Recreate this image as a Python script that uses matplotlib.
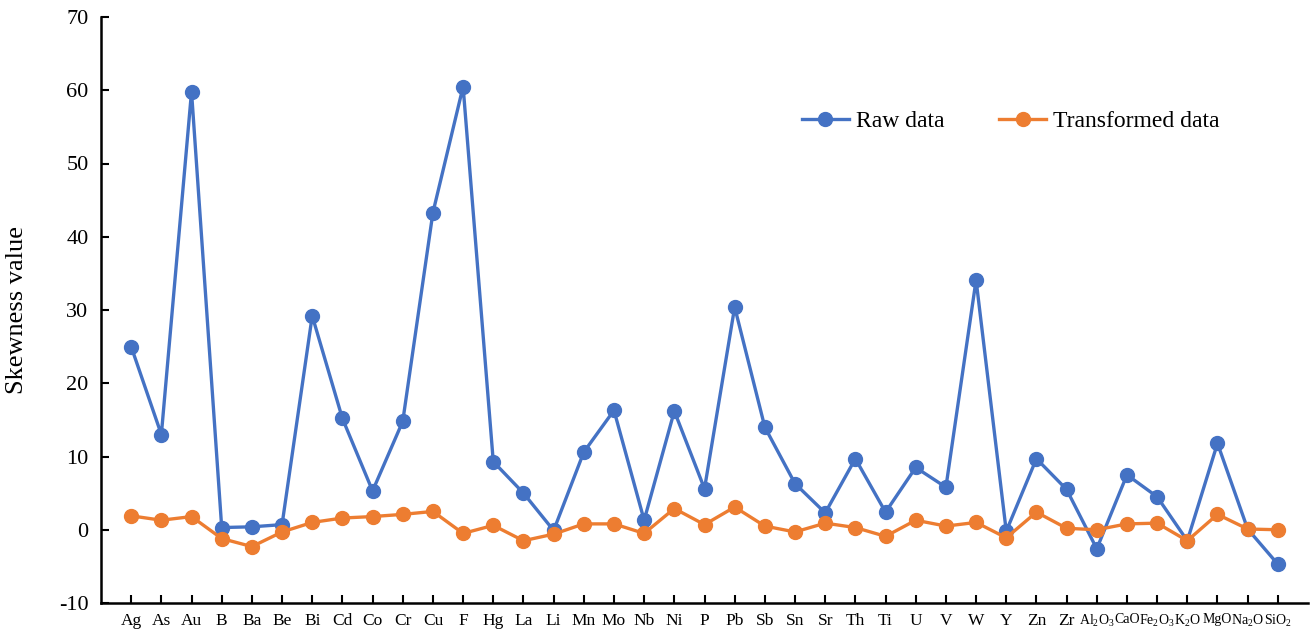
import matplotlib
matplotlib.use('Agg')
import matplotlib.pyplot as plt

plt.rcParams['font.family'] = 'Liberation Serif'
plt.rcParams['mathtext.fontset'] = 'custom'
plt.rcParams['mathtext.rm'] = 'Liberation Serif'
plt.rcParams['mathtext.it'] = 'Liberation Serif:italic'
plt.rcParams['axes.unicode_minus'] = False

# data
elements = ['Ag', 'As', 'Au', 'B', 'Ba', 'Be', 'Bi', 'Cd', 'Co', 'Cr', 'Cu', 'F', 'Hg', 'La',
            'Li', 'Mn', 'Mo', 'Nb', 'Ni', 'P', 'Pb', 'Sb', 'Sn', 'Sr', 'Th', 'Ti', 'U', 'V',
            'W', 'Y', 'Zn', 'Zr', 'Al$_2$O$_3$', 'CaO', 'Fe$_2$O$_3$', 'K$_2$O', 'MgO',
            'Na$_2$O', 'SiO$_2$']
oxides = ['Al$_2$O$_3$', 'CaO', 'Fe$_2$O$_3$', 'K$_2$O', 'MgO', 'Na$_2$O', 'SiO$_2$']
raw = [25.0, 13.0, 59.8, 0.3, 0.4, 0.7, 29.2, 15.2, 5.3, 14.8, 43.3, 60.5, 9.3, 5.0,
       -0.1, 10.6, 16.3, 1.3, 16.2, 5.6, 30.4, 14.0, 6.3, 2.3, 9.7, 2.4, 8.5, 5.8,
       34.1, -0.2, 9.7, 5.5, -2.6, 7.5, 4.5, -1.5, 11.8, 0.1, -4.7]
transformed = [1.9, 1.3, 1.8, -1.2, -2.3, -0.3, 1.0, 1.6, 1.8, 2.1, 2.5, -0.5, 0.6, -1.5,
               -0.6, 0.8, 0.8, -0.5, 2.9, 0.7, 3.1, 0.5, -0.3, 0.9, 0.3, -0.9, 1.3, 0.5,
               1.0, -1.1, 2.4, 0.2, 0.0, 0.8, 0.9, -1.5, 2.1, 0.1, 0.0]

x = list(range(len(elements)))

fig = plt.figure(figsize=(13.14, 6.32), dpi=100)
ax = fig.add_axes([101 / 1314, 29 / 632, 1207 / 1314, 586 / 632])

ax.plot(x, raw, color='#4472C4', lw=2.4, marker='o', ms=10, label='Raw data')
ax.plot(x, transformed, color='#ED7D31', lw=2.4, marker='o', ms=10, label='Transformed data')

ax.set_xlim(-1, len(elements))
ax.set_ylim(-10, 70)
ax.set_yticks(range(-10, 71, 10))
ax.set_xticks(x)
ax.set_xticklabels(elements, fontsize=12.5)
for lbl in ax.get_xticklabels():
    if lbl.get_text() in oxides:
        lbl.set_fontsize(10)
ax.tick_params(axis='y', labelsize=16, direction='in', length=6, width=1.5, pad=9)
ax.tick_params(axis='x', direction='in', length=6, width=1.5, pad=7)

ax.spines['top'].set_visible(False)
ax.spines['right'].set_visible(False)
ax.spines['left'].set_linewidth(1.8)
ax.spines['bottom'].set_linewidth(1.8)

ax.set_ylabel('Skewness value', fontsize=19, labelpad=22)

ax.legend(loc='upper left', bbox_to_anchor=(0.563, 0.877), ncol=2, frameon=False,
          fontsize=17, handlelength=2.0, columnspacing=2.3, handletextpad=0.3)

plt.savefig('out.png')
